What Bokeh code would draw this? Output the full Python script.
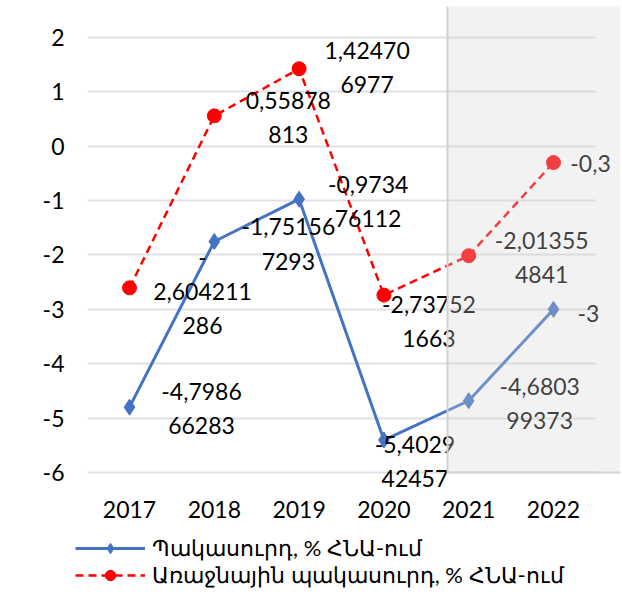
from bokeh.plotting import figure
from bokeh.models import (Range1d, FixedTicker, Legend, LegendItem, ColumnDataSource)
from bokeh.embed import file_html
from bokeh.resources import INLINE

years = ["2017", "2018", "2019", "2020", "2021", "2022"]
deficit = [-4.798666283, -1.751567293, -0.973476112, -5.402942457, -4.680399373, -3.0]
primary = [-2.604211286, 0.55878813, 1.424706977, -2.737521663, -2.013554841, -0.3]
deficit_labels = ["-4,7986\n66283", "-1,75156\n7293", "-0,9734\n76112",
                  "-5,4029\n42457", "-4,6803\n99373", "-3"]
primary_labels = ["-\n2,604211\n286", "0,55878\n813", "1,42470\n6977",
                  "-2,73752\n1663", "-2,01355\n4841", "-0,3"]
y_ticks = [-6, -5, -4, -3, -2, -1, 0, 1, 2]
series_names = ["Պակասուրդ, % ՀՆԱ-ում", "Առաջնային պակասուրդ, % ՀՆԱ-ում"]
forecast_from = 3.75  # start of shaded (forecast) area, in category units

# label offsets in pixels (dx, dy)
deficit_dx = [72, 74, 69, 31, 71, 35]
deficit_dy = [1, 2, 2, 21, 2, 4]
primary_dx = [73, 74, 68, 45, 73, 37]
primary_dy = [3, 1, -2, 26, 1, 1]

FONT = "Lato"
BLUE = "#4472c4"
RED = "#ff0000"

xs = list(range(len(years)))

p = figure(width=620, height=600, output_backend="svg", toolbar_location=None,
           x_range=Range1d(-0.696, 5.79), y_range=Range1d(-8.354, 2.57),
           min_border_left=70, min_border_right=0, min_border_top=6, min_border_bottom=0)
p.outline_line_color = None
p.background_fill_color = "white"
p.border_fill_color = "white"

# grid
p.xgrid.visible = False
p.ygrid.ticker = FixedTicker(ticks=y_ticks)
p.ygrid.grid_line_color = "#dde1e6"
p.ygrid.grid_line_width = 2
p.ygrid.cross_bounds = (-0.5, 5.5)

# axes
p.yaxis.ticker = FixedTicker(ticks=y_ticks)
p.yaxis.major_label_overrides = {t: str(t) for t in y_ticks}
p.xaxis.ticker = FixedTicker(ticks=xs)
p.xaxis.major_label_overrides = {i: y for i, y in enumerate(years)}
p.xaxis.fixed_location = -6.42
for ax in (p.xaxis, p.yaxis):
    ax.axis_line_color = None
    ax.major_tick_line_color = None
    ax.minor_tick_line_color = None
    ax.major_label_text_font = FONT
    ax.major_label_text_font_size = "23px"
    ax.major_label_text_color = "#000000"
p.yaxis.major_label_text_align = "right"
p.yaxis.major_label_standoff = 0
p.xaxis.major_label_standoff = 0

src_d = ColumnDataSource(dict(x=xs, y=deficit, lab=deficit_labels, dx=deficit_dx, dy=deficit_dy))
src_p = ColumnDataSource(dict(x=xs, y=primary, lab=primary_labels, dx=primary_dx, dy=primary_dy))

l1 = p.line("x", "y", source=src_d, line_color=BLUE, line_width=3)
m1 = p.scatter("x", "y", source=src_d, marker="diamond", size=16, fill_color=BLUE, line_color=BLUE)
l2 = p.line("x", "y", source=src_p, line_color=RED, line_width=2.5, line_dash="8 5")
m2 = p.scatter("x", "y", source=src_p, marker="circle", size=14, fill_color=RED, line_color=RED)

for src in (src_p, src_d):
    p.text("x", "y", text="lab", source=src, x_offset="dx", y_offset="dy",
           text_align="center", text_baseline="middle",
           text_font_size="23px", text_font={"value": FONT}, text_color="#000000",
           text_line_height=1.22)

# forecast shading overlay on top
p.quad(left=[forecast_from], right=[20], bottom=[-6], top=[20],
       fill_color="#d5d5d5", fill_alpha=0.3, line_color="#d2d2d2", line_width=2)

legend = Legend(items=[LegendItem(label=series_names[0], renderers=[l1, m1]),
                       LegendItem(label=series_names[1], renderers=[l2, m2])],
                location=(5, 12), orientation="vertical",
                glyph_width=70, glyph_height=26, label_height=20, label_standoff=7, spacing=0,
                padding=0, margin=0, border_line_color=None, background_fill_alpha=0,
                label_text_font=FONT, label_text_font_size="22px", label_text_color="#000000")
p.add_layout(legend)

open("out.html", "w").write(file_html(p, INLINE))
